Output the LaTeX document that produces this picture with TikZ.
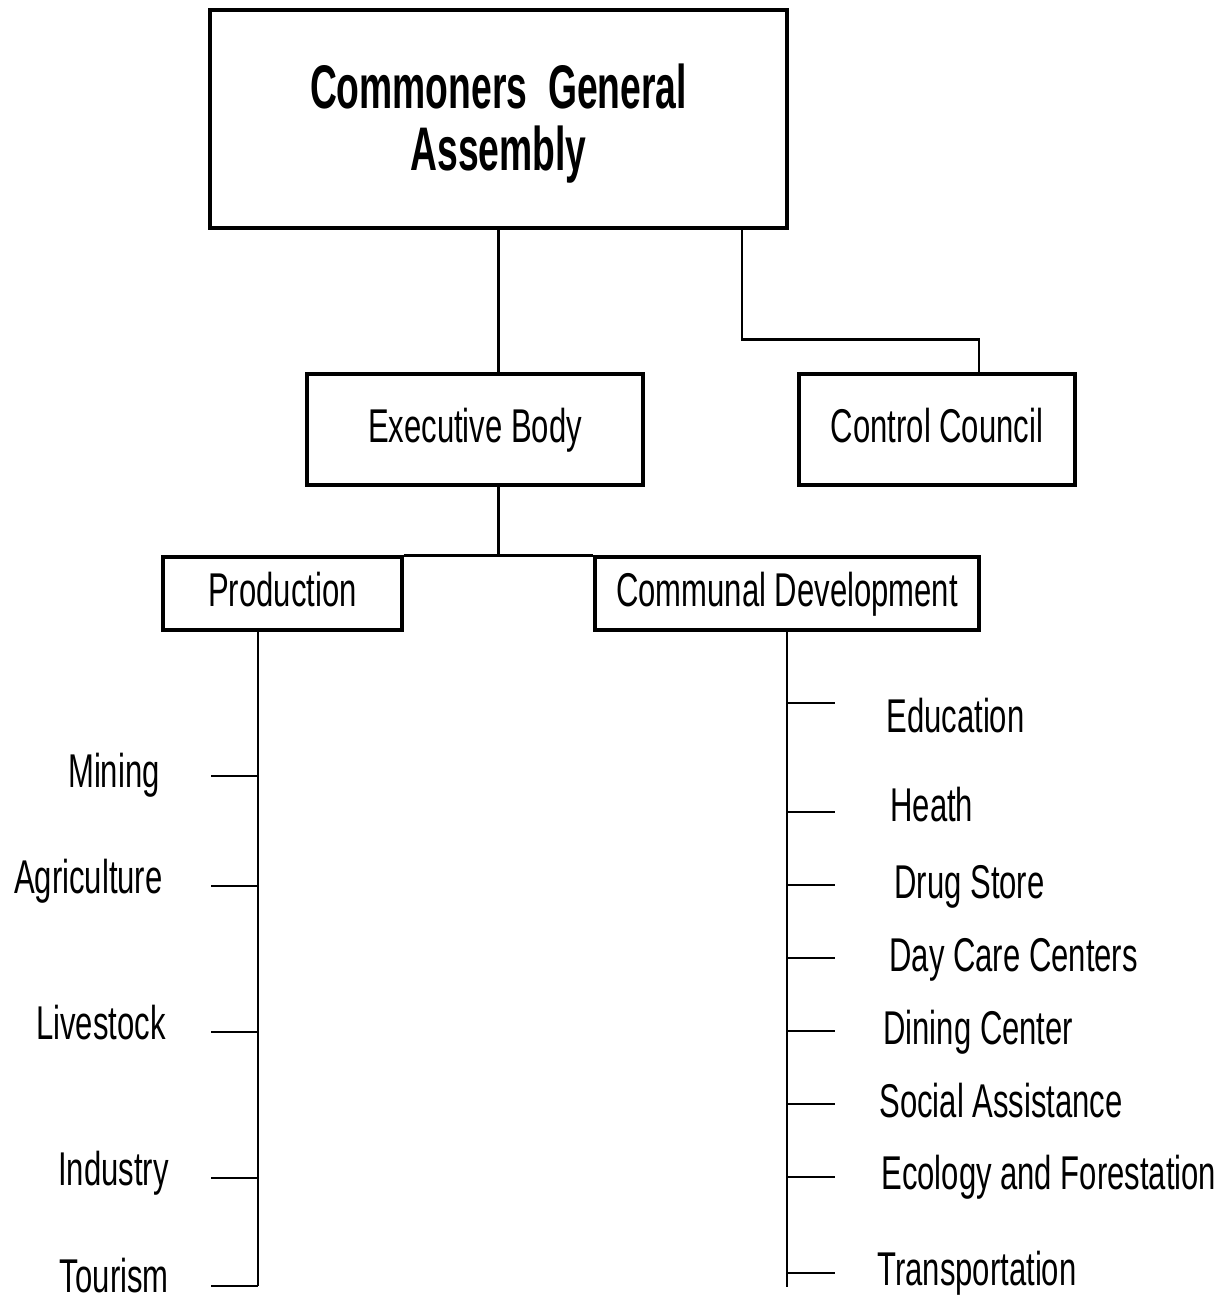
\documentclass[tikz,border=0pt]{standalone}
\usepackage{fontspec}
\setmainfont{Liberation Sans}[FakeStretch=0.655, BoldFeatures={FakeStretch=0.605}]
\usepackage{tikz}
\usetikzlibrary{positioning}
\usetikzlibrary{calc}
\tikzset{
	unitbox/.style={draw=black, line width=1.7pt, inner sep=0pt,
		text height=1.25em, text depth=0pt, font=\fontsize{23.7pt}{28pt}\selectfont},
	headbox/.style={draw=black, line width=1.7pt, inner sep=0pt},
	headtext/.style={inner sep=0pt, align=center, font=\fontsize{30.8pt}{31pt}\selectfont\bfseries},
	branch/.style={draw=black, line width=1.2pt},
	leaf/.style={inner sep=0pt, text height=1.25em, text depth=0pt,
		font=\fontsize{23.7pt}{28pt}\selectfont},
}

\begin{document}
\begin{tikzpicture}[x=0.5pt, y=-0.5pt]
	\useasboundingbox (0,0) rectangle (1220,1304);
	% boxes
	\node[headbox, minimum width=288.5pt, minimum height=109pt] (head) at (498.5,119) {};
	\node[headtext] (headlbl) at (498.5,124) {Commoners~ General\\Assembly};
	\node[unitbox, minimum width=168pt, minimum height=55.5pt] (exec) at (475,429.5) {Executive Body};
	\node[unitbox, minimum width=138pt, minimum height=55.5pt] (ctrl) at (937,429.5) {Control Council};
	\node[unitbox, minimum width=119.5pt, minimum height=36.5pt] (prod) at (282.5,593.5) {Production};
	\node[unitbox, minimum width=192pt, minimum height=36.5pt] (comm) at (787,593.5) {Communal Development};
	\draw[branch] (head.south) -- (head.south |- exec.north);
	\draw[branch] ([xshift=-23.5pt]head.south east) -- ++(0,110) -| ([xshift=21pt]ctrl.north);
	\draw[branch] (exec.south -| head.south) -- (prod.north -| head.south);
	\draw[branch] (prod.north east) -- (comm.north west);
	% production
	\coordinate (pend) at (258,1286);
	\draw[branch] (prod.south -| pend) -- (pend);
	\node[leaf, anchor=east] (mining) at (160,775) {Mining};
	\node[leaf, anchor=east] (agri) at (163,881) {Agriculture};
	\node[leaf, anchor=east] (live) at (166,1027) {Livestock};
	\node[leaf, anchor=east] (indu) at (169,1173) {Industry};
	\node[leaf, anchor=east] (tour) at (169,1280) {Tourism};
	\draw[branch] ([yshift=-0.5pt]mining -| pend) -- ++(-47,0);
	\draw[branch] ([yshift=-2.5pt]agri -| pend) -- ++(-47,0);
	\draw[branch] ([yshift=-2.5pt]live -| pend) -- ++(-47,0);
	\draw[branch] ([yshift=-2.5pt]indu -| pend) -- ++(-47,0);
	\draw[branch] ([yshift=-3pt]tour -| pend) -- ++(-47,0);
	% communal development
	\coordinate (cend) at (787,1287);
	\draw[branch] (comm.south) -- (cend);
	\node[leaf, anchor=west] (edu) at (886,720) {Education};
	\node[leaf, anchor=west] (heal) at (890,809) {Heath};
	\node[leaf, anchor=west] (drug) at (894,886) {Drug Store};
	\node[leaf, anchor=west] (care) at (889,959) {Day Care Centers};
	\node[leaf, anchor=west] (dine) at (883,1032) {Dining Center};
	\node[leaf, anchor=west] (soci) at (879,1105) {Social Assistance};
	\node[leaf, anchor=west] (ecol) at (881,1177) {Ecology and Forestation};
	\node[leaf, anchor=west] (tran) at (877,1273) {Transportation};
	\draw[branch] ([yshift=8.5pt]edu.west -| cend) -- ++(48,0);
	\draw[branch] ([yshift=-1.5pt]heal.west -| cend) -- ++(48,0);
	\draw[branch] ([yshift=0.5pt]drug.west -| cend) -- ++(48,0);
	\draw[branch] ([yshift=0.5pt]care.west -| cend) -- ++(48,0);
	\draw[branch] ([yshift=0.5pt]dine.west -| cend) -- ++(48,0);
	\draw[branch] ([yshift=0.5pt]soci.west -| cend) -- ++(48,0);
	\draw[branch] (ecol.west -| cend) -- ++(48,0);
	\draw[branch] (tran.west -| cend) -- ++(48,0);
\end{tikzpicture}
\end{document}
